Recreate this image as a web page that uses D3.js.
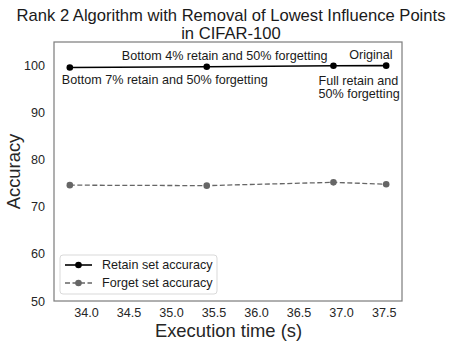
<!DOCTYPE html>
<html><head><meta charset="utf-8">
<script src="https://cdn.jsdelivr.net/npm/d3@7"></script>
<style>body{margin:0;background:#fff;}text{font-family:"Liberation Sans",Arial,sans-serif;}</style>
</head><body><svg id="c" width="449" height="346"></svg>
<script>
const execTime = [33.81, 35.42, 36.91, 37.53];
const retainAcc = [99.6, 99.75, 99.95, 99.98];
const forgetAcc = [74.6, 74.5, 75.2, 74.8];
const pointLabels = ["Bottom 7% retain and 50% forgetting", "Bottom 4% retain and 50% forgetting", "Full retain and\n50% forgetting", "Original"];
const xTicks = [34.0, 34.5, 35.0, 35.5, 36.0, 36.5, 37.0, 37.5];
const yTicks = [50, 60, 70, 80, 90, 100];
const seriesNames = ["Retain set accuracy", "Forget set accuracy"];
const titleLines = ["Rank 2 Algorithm with Removal of Lowest Influence Points", "in CIFAR-100"];

const svg = d3.select("#c");
const L = 54, R = 402, T = 42, B = 301;
const FS = 12.6;
const span = d3.max(execTime) - d3.min(execTime);
const x = d3.scaleLinear().domain([d3.min(execTime) - 0.05*span, d3.max(execTime) + 0.05*span]).range([L, R]);
const y = d3.scaleLinear().domain([50, 105]).range([B, T]);

// title
svg.selectAll("text.title").data(titleLines).join("text")
  .attr("x", 231).attr("y", (d,i) => 21 + i*18).attr("text-anchor","middle")
  .attr("font-size", 16.6).attr("fill", "#1a1a1a").text(d => d);

// axes
const xa = svg.append("g").attr("transform", `translate(0,${B})`)
  .call(d3.axisBottom(x).tickValues(xTicks).tickFormat(d3.format(".1f")).tickSize(0).tickPadding(7));
const ya = svg.append("g").attr("transform", `translate(${L},0)`)
  .call(d3.axisLeft(y).tickValues(yTicks).tickSize(0).tickPadding(9));
[xa, ya].forEach(g => { g.select(".domain").remove(); g.selectAll("text").attr("font-size", FS).attr("fill", "#262626").style("font-family", '"Liberation Sans",Arial,sans-serif'); });

svg.append("rect").attr("x", L).attr("y", T).attr("width", R-L).attr("height", B-T)
  .attr("fill","none").attr("stroke","#808080").attr("stroke-width",1.25);

svg.append("text").attr("x", (L+R)/2 + 0.5).attr("y", 336.5).attr("text-anchor","middle")
  .attr("font-size", 18.4).attr("fill","#262626").text("Execution time (s)");
svg.append("text").attr("transform", `translate(20,${(T+B)/2}) rotate(-90)`).attr("text-anchor","middle")
  .attr("font-size", 18.4).attr("fill","#262626").text("Accuracy");

const line = d3.line().x(d => x(d[0])).y(d => y(d[1]));
const fData = execTime.map((t,i) => [t, forgetAcc[i]]);
const rData = execTime.map((t,i) => [t, retainAcc[i]]);

svg.append("path").datum(fData).attr("d", line).attr("fill","none")
  .attr("stroke","#666").attr("stroke-width",1.3).attr("stroke-dasharray","5,2.5");
svg.selectAll("circle.f").data(fData).join("circle").attr("cx", d=>x(d[0])).attr("cy", d=>y(d[1])).attr("r",3.3).attr("fill","#666");

svg.append("path").datum(rData).attr("d", line).attr("fill","none")
  .attr("stroke","#000").attr("stroke-width",1.6);
svg.selectAll("circle.r").data(rData).join("circle").attr("cx", d=>x(d[0])).attr("cy", d=>y(d[1])).attr("r",3.3).attr("fill","#000");

// annotations
const ann = [
  {i:0, dx:-8, dy:17, anchor:"start"},
  {i:1, dx:-85, dy:-7, anchor:"start"},
  {i:2, dx:-15, dy:19, anchor:"start"},
  {i:3, dx:-37, dy:-7, anchor:"start"}
];
ann.forEach(a => {
  const t = svg.append("text").attr("font-size", FS).attr("fill","#1a1a1a").attr("text-anchor", a.anchor);
  pointLabels[a.i].split("\n").forEach((s,k) => {
    t.append("tspan").attr("x", x(execTime[a.i]) + a.dx).attr("y", y(retainAcc[a.i]) + a.dy + k*13).text(s);
  });
});

// legend
const lg = svg.append("g");
lg.append("rect").attr("x", 60).attr("y", 255).attr("width", 157).attr("height", 39).attr("rx", 3)
  .attr("fill","#fff").attr("fill-opacity",0.85).attr("stroke","#d9d9d9");
seriesNames.forEach((n,k) => {
  const yy = 265 + k*18;
  lg.append("line").attr("x1",65).attr("x2",92).attr("y1",yy).attr("y2",yy)
    .attr("stroke", k ? "#666" : "#000").attr("stroke-width", k?1.3:1.6).attr("stroke-dasharray", k ? "5,2.5" : null);
  lg.append("circle").attr("cx",78.5).attr("cy",yy).attr("r",3.3).attr("fill", k ? "#666" : "#000");
  lg.append("text").attr("x",102).attr("y",yy+4.4).attr("font-size",FS).attr("fill","#1a1a1a").text(n);
});
</script></body></html>
